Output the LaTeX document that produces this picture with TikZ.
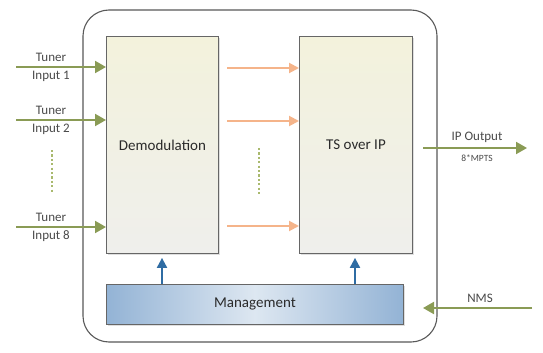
\documentclass[tikz,border=0pt]{standalone}
\usepackage{fontspec}
\setmainfont{Carlito}
\usetikzlibrary{arrows.meta,shadows}
\definecolor{grn}{HTML}{8A9B55}
\definecolor{dotc}{HTML}{A9B96E}
\definecolor{org}{HTML}{F5B48A}
\definecolor{blu}{HTML}{2F6CA3}
\definecolor{txt}{HTML}{2A2A2A}
\definecolor{lbl}{HTML}{4A4A4A}
\definecolor{boxtop}{HTML}{F3F2DC}
\definecolor{boxbot}{HTML}{EFEFEC}
\definecolor{mgedge}{HTML}{93B3D5}
\definecolor{mgmid}{HTML}{DDE7F1}
\tikzset{
  x=1pt, y=-1pt,
  procbox/.style={draw=black!60, line width=0.9pt, top color=boxtop, bottom color=boxbot,
    drop shadow={shadow xshift=1.5pt, shadow yshift=-1.5pt, opacity=0.25},
    font=\fontsize{15}{17}\selectfont, text=txt},
  mgbox/.style={draw=black!60, line width=0.9pt, left color=mgedge, right color=mgedge, middle color=mgmid,
    drop shadow={shadow xshift=1.5pt, shadow yshift=-1.5pt, opacity=0.25},
    font=\fontsize{15}{17}\selectfont, text=txt},
  grnarrow/.style={draw=grn, line width=2pt, -{Triangle[length=11pt,width=12pt]}},
  orgarrow/.style={draw=org, line width=2pt, -{Triangle[length=10pt,width=10pt]}},
  bluarrow/.style={draw=blu, line width=2pt, -{Triangle[length=10pt,width=10pt]}, shorten >=4pt},
  dotline/.style={draw=dotc, line width=2.2pt, dash pattern=on 2.2pt off 2.2pt},
  tlabel/.style={font=\fontsize{13}{15}\selectfont, text=lbl, inner sep=0pt},
  slabel/.style={font=\fontsize{9.5}{11}\selectfont, text=lbl, inner sep=0pt},
}
\begin{document}
\begin{tikzpicture}
\useasboundingbox (0,0) rectangle (543,353);
\fill[white] (0,0) rectangle (543,353);
% outer frame
\draw[black!65, line width=1.1pt, rounded corners=26pt] (83,10) rectangle (437,342);
% blocks
\node[procbox, minimum width=112pt, minimum height=217pt, anchor=north west] (demod) at (106,36) {Demodulation};
\node[procbox, minimum width=113pt, minimum height=217pt, anchor=north west] (ts) at (299,36) {TS over IP};
\node[mgbox, minimum width=297pt, minimum height=40pt, anchor=north west] (mgmt) at (106,284) {Management};
% tuner inputs
\coordinate (t1) at (16,67);
\coordinate (t2) at (16,120);
\coordinate (t8) at (16,227);
\draw[grnarrow] (t1) -- (t1 -| demod.west);
\draw[grnarrow] (t2) -- (t2 -| demod.west);
\draw[grnarrow] (t8) -- (t8 -| demod.west);
\node[tlabel] (l1a) at (51,57) {Tuner};
\node[tlabel] (l1b) at (51,76) {Input 1};
\node[tlabel] (l2a) at (51,110) {Tuner};
\node[tlabel] (l2b) at (51,129) {Input 2};
\node[tlabel] (l8a) at (51,217) {Tuner};
\node[tlabel] (l8b) at (51,236) {Input 8};
% dotted ellipsis
\coordinate (d1a) at (52,150);
\coordinate (d1b) at (52,192);
\draw[dotline] (d1a) -- (d1b);
\coordinate (d2a) at (259,148);
\coordinate (d2b) at (259,195);
\draw[dotline] (d2a) -- (d2b);
% orange arrows
\coordinate (o1) at (227,68);
\coordinate (o2) at (227,121);
\coordinate (o8) at (227,226);
\draw[orgarrow] (o1) -- (o1 -| ts.west);
\draw[orgarrow] (o2) -- (o2 -| ts.west);
\draw[orgarrow] (o8) -- (o8 -| ts.west);
% IP output
\coordinate (ipa) at (423,148);
\coordinate (ipb) at (527,148);
\draw[grnarrow] (ipa) -- (ipb);
\node[tlabel] (ipl) at (477,137) {IP Output};
\node[slabel] (ipm) at (477,158) {8*MPTS};
% management arrows
\draw[bluarrow] (mgmt.north -| 162,0) -- (demod.south -| 162,0);
\draw[bluarrow] (mgmt.north -| 355,0) -- (ts.south -| 355,0);
% NMS
\coordinate (nmsa) at (532,308);
\coordinate (nmsb) at (423,308);
\draw[grnarrow] (nmsa) -- (nmsb);
\node[tlabel] (nmsl) at (480,298) {NMS};
\end{tikzpicture}
\end{document}
